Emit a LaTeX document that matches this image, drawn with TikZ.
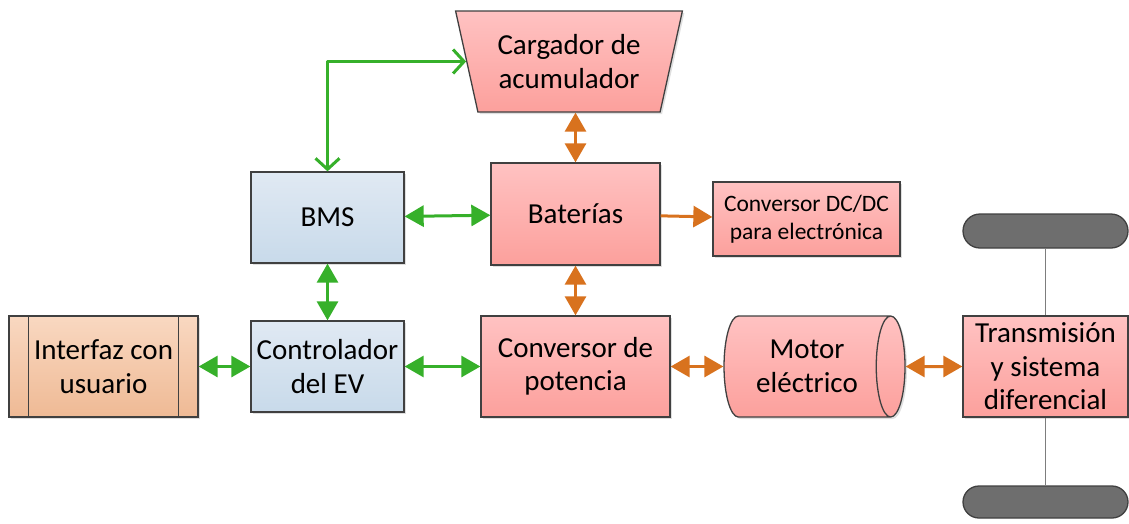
\documentclass[tikz,border=0pt]{standalone}
\usepackage{fontspec}
\setmainfont{Carlito}
\usetikzlibrary{arrows.meta,positioning,shapes.geometric,shapes.misc,shadows}
\definecolor{rojoA}{HTML}{FFC2C2}
\definecolor{rojoB}{HTML}{FCA09C}
\definecolor{azulA}{HTML}{E0E9F3}
\definecolor{azulB}{HTML}{C8DAEA}
\definecolor{ocreA}{HTML}{F9D8C1}
\definecolor{ocreB}{HTML}{EFBA95}
\definecolor{borde}{HTML}{404040}
\definecolor{verde}{HTML}{36B02A}
\definecolor{naranja}{HTML}{D8721E}
\definecolor{gris}{HTML}{6E6E6E}
\newcommand{\grande}{\fontsize{29}{33.5}\selectfont}
\newcommand{\chico}{\fontsize{23.5}{28.5}\selectfont}
\tikzset{
  caja/.style={draw=borde,line width=1.3pt,align=center,inner sep=0pt,font=\grande,
               drop shadow={shadow xshift=2pt,shadow yshift=-2pt,opacity=0.25}},
  rojo/.style={caja,top color=rojoA,bottom color=rojoB},
  azul/.style={caja,top color=azulA,bottom color=azulB},
  ocre/.style={caja,top color=ocreA,bottom color=ocreB},
  rueda/.style={rounded rectangle,draw=borde,line width=1.3pt,fill=gris,inner sep=0pt},
  eje/.style={draw=gris!90,line width=1.5pt},
  flechaV/.style={draw=verde,line width=3pt,{Triangle[length=19pt,width=21pt]}-{Triangle[length=19pt,width=21pt]}},
  flechaA/.style={draw=verde,line width=3pt,line join=round,{Straight Barb[length=11pt,width=24pt]}-{Straight Barb[length=11pt,width=24pt]}},
  flechaN/.style={draw=naranja,line width=3pt,{Triangle[length=19pt,width=21pt]}-{Triangle[length=19pt,width=21pt]}},
  flechaU/.style={draw=naranja,line width=3pt,-{Triangle[length=19pt,width=21pt]}},
}
\begin{document}
\begin{tikzpicture}[x=1pt,y=-1pt]
  \useasboundingbox (0,0) rectangle (1129,523);
  % bloques
  \node[rojo,trapezium,trapezium stretches=true,trapezium left angle=108,trapezium right angle=108,
        minimum width=227pt,minimum height=101pt] (carg) at (569,61.5) {Cargador de\\acumulador};
  \node[rojo,minimum width=169pt,minimum height=102pt] (bat) at (575.5,214) {Baterías};
  \node[azul,minimum width=153pt,minimum height=91pt] (bms) at (327.5,217.5) {BMS};
  \node[rojo,font=\chico,minimum width=187pt,minimum height=74pt] (dcdc) at (806.5,219) {Conversor DC/DC\\para electrónica};
  \node[ocre,minimum width=189pt,minimum height=101pt] (ui) at (103.5,366.5) {Interfaz con\\usuario};
  \node[azul,minimum width=153pt,minimum height=91pt] (ctrl) at (327.5,366.5) {Controlador\\del EV};
  \node[rojo,minimum width=189pt,minimum height=101pt] (conv) at (575.5,366.5) {Conversor de\\potencia};
  \node[rojo,cylinder,aspect=0.55,minimum width=101pt,minimum height=181pt] (motor) at (807,366.5) {Motor\\eléctrico};
  \node[rojo,minimum width=165pt,minimum height=101pt] (trans) at (1045.5,366.5) {Transmisión\\y sistema\\diferencial};
  \node[rueda,minimum width=165pt,minimum height=34pt] (rueda1) at (1045.5,231) {};
  \node[rueda,minimum width=165pt,minimum height=32pt] (rueda2) at (1045.5,502) {};
  \draw[borde,line width=1.3pt] ([xshift=20pt]ui.north west) -- ([xshift=20pt]ui.south west);
  \draw[borde,line width=1.3pt] ([xshift=-20pt]ui.north east) -- ([xshift=-20pt]ui.south east);
  % eje
  \draw[eje] (rueda1) -- (trans);
  \draw[eje] (trans) -- (rueda2);
  % conexiones
  \draw[flechaA] (bms.north) |- (carg);
  \draw[flechaV] (bms) -- (bat);
  \draw[flechaV] (bms) -- (ctrl);
  \draw[flechaV] (ui) -- (ctrl);
  \draw[flechaV] (ctrl) -- (conv);
  \draw[flechaN] (bat.north) -- (bat.north |- carg.south);
  \draw[flechaN] (bat) -- (conv);
  \draw[flechaU] (bat) -- (dcdc);
  \draw[flechaN] (conv) -- (motor);
  \draw[flechaN] (motor) -- (trans);
\end{tikzpicture}
\end{document}
